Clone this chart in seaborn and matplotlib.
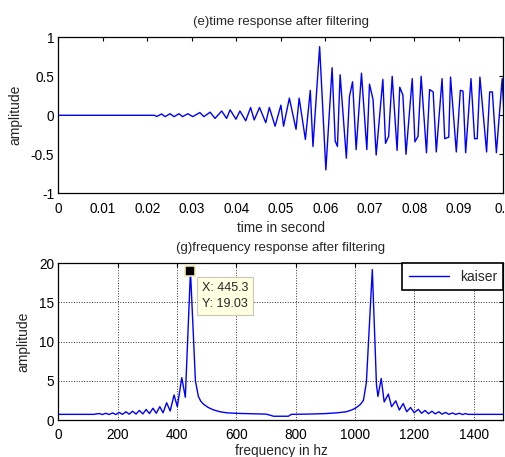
import matplotlib
matplotlib.use("Agg")
import matplotlib.pyplot as plt
import seaborn as sns
import numpy as np

# ---------------- data ----------------
# (e) time response: vertices of the polyline, time in ms, amplitude
time_ms = [0.0, 21.6, 22.1, 23.2, 24.0, 25.1, 26.0, 27.1, 27.9, 29.1, 30.2,
           31.8, 32.7, 34.1, 35.2, 36.7, 37.8, 38.6, 39.9, 40.8, 42.1,
           43.2, 44.0, 45.2, 46.6, 47.4, 48.7, 50.0, 50.6, 51.9, 53.4,
           54.1, 55.5, 56.6, 57.2, 58.7, 60.1, 61.5, 62.2, 62.7, 63.3,
           64.7, 65.4, 66.1, 66.9, 68.1, 69.3, 69.9, 70.7, 71.4, 72.9,
           73.5, 74.2, 75.0, 76.1, 76.7, 77.4, 78.1, 79.5, 80.1, 80.8,
           81.5, 82.7, 83.4, 84.2, 84.9, 86.2, 86.8, 87.7, 88.1, 89.4,
           90.3, 90.9, 91.5, 92.7, 93.5, 94.1, 94.7, 96.2, 96.9, 97.5,
           98.4, 99.7, 100.4]
time_amp = [0.0, 0.0, -0.015, 0.017, -0.017, 0.02, -0.017, 0.02, -0.017, 0.02, -0.017,
            0.035, -0.017, 0.04, -0.04, 0.055, -0.04, 0.07, -0.05, 0.055, -0.07,
            0.10, -0.06, 0.10, -0.095, 0.10, -0.14, 0.13, -0.14, 0.22, -0.18,
            0.22, -0.31, 0.32, -0.40, 0.88, -0.70, 0.61, -0.33, -0.40, 0.52,
            -0.55, 0.24, 0.43, -0.44, 0.54, -0.44, 0.40, 0.20, -0.51, 0.46,
            -0.36, -0.27, 0.50, -0.45, 0.36, 0.26, -0.50, 0.47, -0.34, -0.27,
            0.50, -0.48, 0.33, 0.30, -0.47, 0.47, -0.30, -0.28, 0.49, -0.47,
            0.32, 0.31, -0.48, 0.47, -0.30, -0.30, 0.49, -0.47, 0.30, 0.30,
            -0.48, 0.47, -0.30]

# (g) frequency response after filtering (kaiser)
freq_hz = [0, 120, 128, 138, 149, 160, 171, 183, 194, 205, 216, 228, 239, 250,
           262, 273, 285, 296, 307, 319, 330, 342, 353, 365, 377, 390, 401,
           416, 428, 445.3, 462, 472, 480, 490, 505, 522, 545, 567, 600, 650,
           700, 715, 725, 775, 785, 850, 900, 940, 970, 990, 1005, 1018, 1028,
           1038, 1058, 1072, 1077, 1088, 1098, 1112, 1123, 1137, 1149, 1162,
           1174, 1187, 1199, 1213, 1224, 1236, 1247, 1259, 1270, 1282, 1293,
           1305, 1316, 1328, 1339, 1351, 1362, 1372, 1380, 1500]
freq_amp = [0.72, 0.72, 0.78, 0.82, 0.70, 0.86, 0.70, 0.90, 0.70, 0.97, 0.72, 1.05, 0.74, 1.12,
            0.76, 1.22, 0.78, 1.35, 0.82, 1.50, 0.86, 1.70, 0.92, 2.20, 1.15, 3.20, 1.70,
            5.40, 2.90, 19.03, 5.00, 3.00, 2.40, 2.00, 1.60, 1.30, 1.05, 0.92, 0.85, 0.80,
            0.75, 0.60, 0.48, 0.48, 0.72, 0.76, 0.82, 0.92, 1.05, 1.30, 1.60, 2.00, 2.50,
            4.80, 19.20, 4.50, 3.00, 5.30, 2.30, 3.30, 1.70, 2.45, 1.27, 2.10,
            1.06, 1.60, 0.93, 1.36, 0.86, 1.22, 0.80, 1.12, 0.78, 1.05, 0.74,
            0.97, 0.72, 0.90, 0.71, 0.86, 0.70, 0.82, 0.72, 0.72]

series_label = "kaiser"
tip_x, tip_y = 445.3, 19.03

# ---------------- style ----------------
sns.set_style("white")
plt.rcParams['font.family'] = ['Liberation Sans', 'DejaVu Sans']
plt.rcParams['axes.unicode_minus'] = False
plt.rcParams['axes.edgecolor'] = 'black'
plt.rcParams['axes.linewidth'] = 0.9

fig = plt.figure(figsize=(5.06, 4.57), dpi=100)
W, H = 506, 457
ax1 = fig.add_axes([58.3 / W, 1 - 193.3 / H, (503.5 - 58.3) / W, (193.3 - 37.3) / H])
ax2 = fig.add_axes([58.3 / W, 1 - 420.0 / H, (503.5 - 58.3) / W, (420.0 - 263.3) / H])

t_sec = [v / 1000.0 for v in time_ms]
sns.lineplot(x=t_sec, y=time_amp, ax=ax1, color=(0, 0, 1), linewidth=1.0,
             estimator=None, sort=False)
sns.lineplot(x=freq_hz, y=freq_amp, ax=ax2, color=(0, 0, 1), linewidth=1.0,
             estimator=None, sort=False, label=series_label)

for ax in (ax1, ax2):
    ax.tick_params(direction='in', top=True, right=True, length=3, width=0.8,
                   labelsize=9.8, colors='black')
    ax.tick_params(axis='x', pad=6)
    ax.tick_params(axis='y', pad=3)
    for s in ax.spines.values():
        s.set_visible(True)
        s.set_color('black')

ax1.set_xlim(0, 0.1)
ax1.set_ylim(-1, 1)
ax1.set_xticks(np.arange(0, 0.1001, 0.01))
ax1.set_xticklabels(["0", "0.01", "0.02", "0.03", "0.04", "0.05", "0.06",
                     "0.07", "0.08", "0.09", "0.1"])
ax1.set_yticks([-1, -0.5, 0, 0.5, 1])
ax1.set_yticklabels(["-1", "-0.5", "0", "0.5", "1"])
ax1.set_title("(e)time response after filtering", fontsize=9.5, pad=9)
ax1.set_xlabel("time in second", fontsize=9.8, labelpad=4)
ax1.set_ylabel("amplitude", fontsize=10, labelpad=6)

ax2.set_xlim(0, 1500)
ax2.set_ylim(0, 20)
ax2.set_xticks(range(0, 1401, 200))
ax2.set_yticks([0, 5, 10, 15, 20])
ax2.grid(True, linestyle=':', color='#303030', linewidth=0.7)
ax2.set_axisbelow(True)
ax2.set_title("(g)frequency response after filtering", fontsize=9.5, pad=9)
ax2.set_xlabel("frequency in hz", fontsize=9.8, labelpad=1.5)
ax2.set_ylabel("amplitude", fontsize=10, labelpad=6)

leg = ax2.legend(loc='upper right', frameon=True, fancybox=False, framealpha=1,
                 edgecolor='black', fontsize=10, handlelength=2.9,
                 borderaxespad=0.0, borderpad=0.45)
leg.get_frame().set_linewidth(1.2)

# data tip
ax2.plot([tip_x], [tip_y], marker='s', markersize=7, color='black',
         markeredgecolor='#f0e8b0', markeredgewidth=1.2, zorder=5, clip_on=False)
ax2.annotate(f"X: {tip_x}\nY: {tip_y}", xy=(tip_x, tip_y), xytext=(8, -8),
             textcoords='offset points', ha='left', va='top', fontsize=9,
             linespacing=1.45,
             bbox=dict(boxstyle='square,pad=0.4', fc='#ffffe1', ec='#c8c8b4', lw=0.8),
             zorder=6)

fig.savefig("out.png", dpi=100)
